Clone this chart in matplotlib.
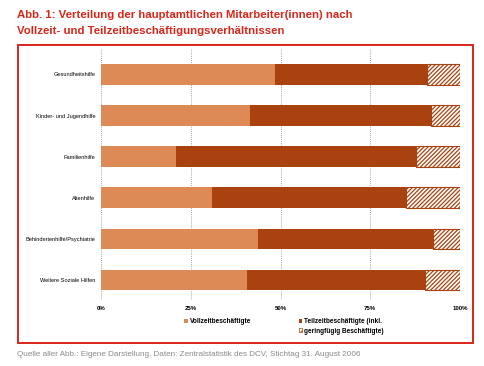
import matplotlib
matplotlib.use("Agg")
import matplotlib.pyplot as plt
from matplotlib.patches import Rectangle, Patch
from matplotlib.lines import Line2D
import numpy as np

categories = ["Gesundheitshilfe", "Kinder- und Jugendhilfe", "Familienhilfe",
              "Altenhilfe", "Behindertenhilfe/Psychiatrie", "Weitere Soziale Hilfen"]
vollzeit = [48.5, 41.5, 20.8, 31.0, 43.8, 40.8]
teilzeit = [42.3, 50.4, 66.9, 54.0, 48.7, 49.5]
geringfuegig = [9.2, 8.1, 12.3, 15.0, 7.5, 9.7]
ticks = [0, 25, 50, 75, 100]
tick_labels = ["0%", "25%", "50%", "75%", "100%"]

c_voll = "#dd8a56"
c_teil = "#a9420f"
c_red = "#d8261a"

plt.rcParams['font.family'] = ['Liberation Sans', 'DejaVu Sans']
plt.rcParams['hatch.linewidth'] = 0.9

fig = plt.figure(figsize=(4.85, 3.66), dpi=100)
ax = fig.add_axes([101/485, 1-300/366, 359/485, 252/366])

y = np.arange(len(categories))
v = np.array(vollzeit); t = np.array(teilzeit); g = np.array(geringfuegig)
ax.barh(y, v, height=0.5, color=c_voll, zorder=3)
ax.barh(y, t, left=v, height=0.5, color=c_teil, zorder=3)
ax.barh(y, g, left=v+t, height=0.5, facecolor="white", edgecolor=c_teil,
        hatch="////////", linewidth=0.8, zorder=3)

ax.set_xlim(0, 100)
ax.set_ylim(5.49, -0.645)
for tk in ticks:
    ax.axvline(tk, color="#888888", linestyle=(0, (1, 1.5)), linewidth=0.6, zorder=1)
ax.axhline(5.49, color="#bbbbbb", linewidth=0.6, zorder=1)
for s in ax.spines.values():
    s.set_visible(False)
ax.set_xticks(ticks)
ax.set_xticklabels(tick_labels, fontsize=4.4, fontweight="bold")
ax.tick_params(axis="x", length=0, pad=4)
ax.set_yticks(y)
ax.set_yticklabels(categories, fontsize=4.1)
ax.tick_params(axis="y", length=0, pad=4)

# frame
fig.patches.append(Rectangle((18/485, 1-343/366), 455/485, 298/366, transform=fig.transFigure,
                             fill=False, edgecolor=c_red, linewidth=1.4))

fig.text(17/485, 1-15/366, "Abb. 1: Verteilung der hauptamtlichen Mitarbeiter(innen) nach",
         color=c_red, fontsize=8.2, fontweight="bold", va="center", ha="left")
fig.text(17/485, 1-31/366, "Vollzeit- und Teilzeitbeschäftigungsverhältnissen",
         color=c_red, fontsize=8.2, fontweight="bold", va="center", ha="left")

fig.text(17/485, 1-354/366,
         "Quelle aller Abb.: Eigene Darstellung. Daten: Zentralstatistik des DCV, Stichtag 31. August 2006",
         color="#8a8a8a", fontsize=5.9, va="center", ha="left")

handles = [Patch(facecolor=c_voll, edgecolor="none"),
           Line2D([], [], linestyle="none"),
           Patch(facecolor=c_teil, edgecolor="none"),
           Patch(facecolor="white", edgecolor=c_teil, hatch="//////", linewidth=0.5)]
labels = ["Vollzeitbeschäftigte", "", "Teilzeitbeschäftigte (inkl.", "geringfügig Beschäftigte)"]
leg = fig.legend(handles, labels, ncol=2, loc="upper left",
                 bbox_to_anchor=(181/485, 1-315/366), frameon=False,
                 prop={"size": 4.7, "weight": "bold"}, handlelength=0.6, handleheight=0.6,
                 handletextpad=0.3, columnspacing=7.2, labelspacing=0.35, borderpad=0)

fig.savefig("out.png", dpi=100)
